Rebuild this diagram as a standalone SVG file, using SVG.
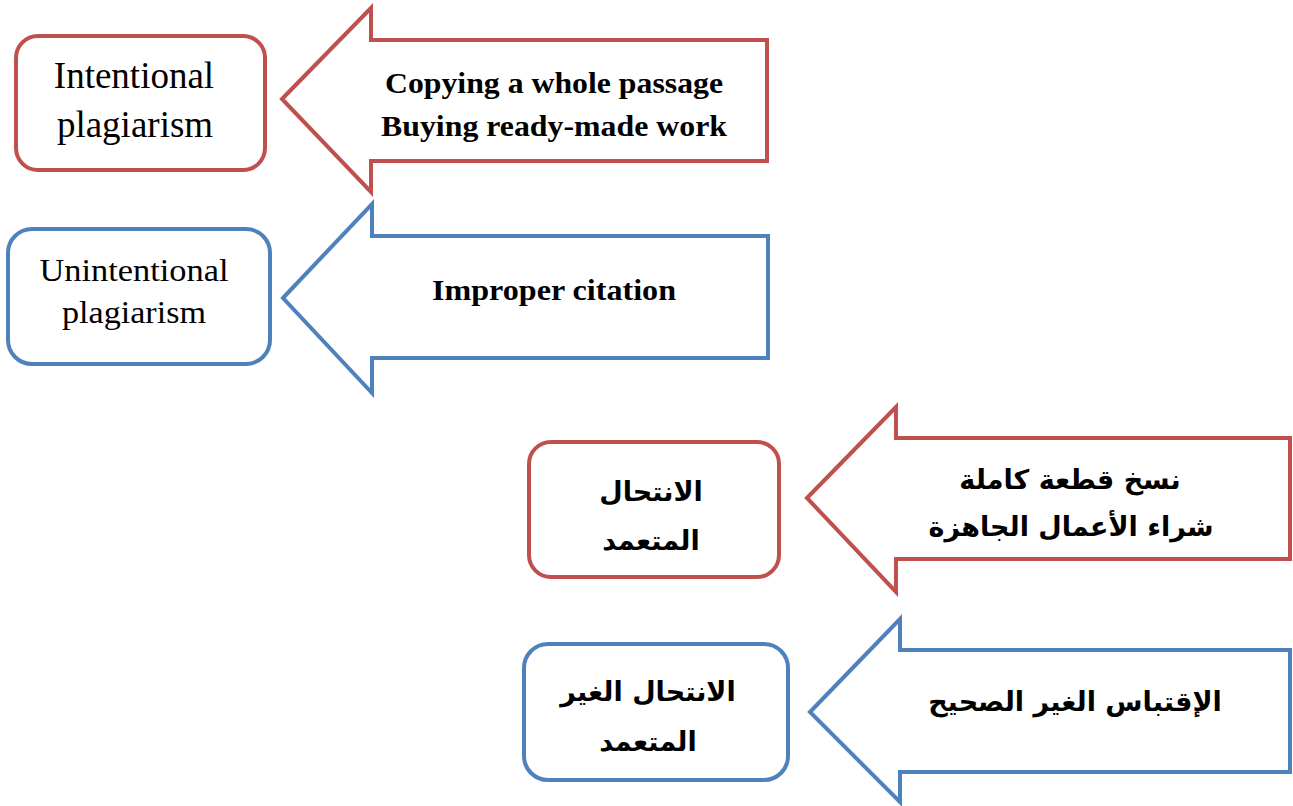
<svg xmlns="http://www.w3.org/2000/svg" width="1293" height="806" viewBox="0 0 1293 806">
<style>
.red{fill:#fff;stroke:#C0504D;stroke-width:4;stroke-linejoin:miter}
.blue{fill:#fff;stroke:#4F81BD;stroke-width:4;stroke-linejoin:miter}
.en{font-family:"Liberation Serif","Times New Roman",serif;fill:#000;text-anchor:middle}
.enb{font-family:"Liberation Serif","Times New Roman",serif;font-weight:bold;fill:#000;text-anchor:middle}
.ar{font-family:"DejaVu Sans","Noto Sans",sans-serif;font-weight:bold;fill:#000;text-anchor:middle;font-size:27px}
</style>
<rect width="1293" height="806" fill="#fff"/>
<g id="connectors">
<g id="arrow1">
<path class="red" d="M282,99 L371,8 L371,40 L767,40 L767,161 L371,161 L371,192 Z"/>
<text class="enb" x="554" y="93" font-size="30" textLength="338" lengthAdjust="spacingAndGlyphs">Copying a whole passage</text>
<text class="enb" x="554" y="136" font-size="30" textLength="346" lengthAdjust="spacingAndGlyphs">Buying ready-made work</text>
</g>
<g id="arrow2">
<path class="blue" d="M283,298 L372,204 L372,236 L768,236 L768,358 L372,358 L372,393 Z"/>
<text class="enb" x="554" y="300" font-size="30" textLength="244" lengthAdjust="spacingAndGlyphs">Improper citation</text>
</g>
<g id="arrow3">
<path class="red" d="M807,498 L896,407 L896,438 L1290,438 L1290,559 L896,559 L896,592 Z"/>
<text class="ar" x="1070" y="489">نسخ قطعة كاملة</text>
<text class="ar" x="1071" y="536" font-size="26px">شراء الأعمال الجاهزة</text>
</g>
<g id="arrow4">
<path class="blue" d="M810,712 L900,619 L900,650 L1290,650 L1290,772 L900,772 L900,802 Z"/>
<text class="ar" x="1075" y="711">الإقتباس الغير الصحيح</text>
</g>
</g>
<g id="node1">
<rect class="red" x="16" y="36" width="249" height="134" rx="22"/>
<text class="en" x="134" y="88" font-size="37">Intentional</text>
<text class="en" x="135" y="137" font-size="37">plagiarism</text>
</g>
<g id="node2">
<rect class="blue" x="8" y="229" width="262" height="135" rx="24"/>
<text class="en" x="134" y="281" font-size="31" textLength="189" lengthAdjust="spacingAndGlyphs">Unintentional</text>
<text class="en" x="134" y="323" font-size="31" textLength="144" lengthAdjust="spacingAndGlyphs">plagiarism</text>
</g>
<g id="node3">
<rect class="red" x="529" y="442" width="250" height="135" rx="22"/>
<text class="ar" x="651" y="501">الانتحال</text>
<text class="ar" x="651" y="550">المتعمد</text>
</g>
<g id="node4">
<rect class="blue" x="524" y="644" width="264" height="136" rx="24"/>
<text class="ar" x="648" y="701">الانتحال الغير</text>
<text class="ar" x="648" y="751">المتعمد</text>
</g>
</svg>
